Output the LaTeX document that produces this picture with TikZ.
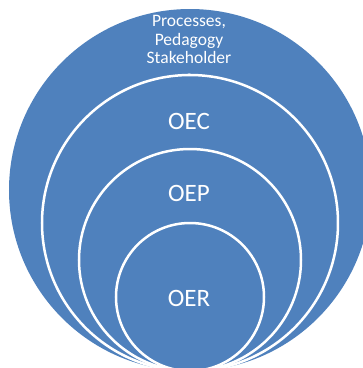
\documentclass[tikz,border=0pt]{standalone}
\usepackage{fontspec}
\setmainfont{Carlito}
\usepackage{tikz}
\usetikzlibrary{positioning}
\definecolor{vennblue}{HTML}{4F81BD}
\tikzset{
  ring/.style={fill=vennblue,draw=white,line width=2.5pt},
  ringlabel/.style={text=white,font=\fontsize{25}{28}\selectfont}
}

\begin{document}
\begin{tikzpicture}[x=1pt,y=-1pt]
	\useasboundingbox (0,0) rectangle (363,368);
	\clip (0,0) rectangle (363,368);
	% outer disc and its text
	\fill[vennblue] (190,190) circle (181pt);
	\node[text=white,align=center,font=\fontsize{17.5}{18.5}\selectfont] (outer) at (189,49) {Processes,\\Pedagogy\\Stakeholder\\s};
	% inner rings, all touching at the bottom
	\draw[ring] (190,223) circle (148pt);
	\draw[ring] (190,260) circle (111pt);
	\draw[ring] (190,297) circle (74pt);
	\node[ringlabel] (oec) at (189,121) {OEC};
	\node[ringlabel] (oep) at (189,193) {OEP};
	\node[ringlabel] (oer) at (189,298) {OER};
\end{tikzpicture}
\end{document}
